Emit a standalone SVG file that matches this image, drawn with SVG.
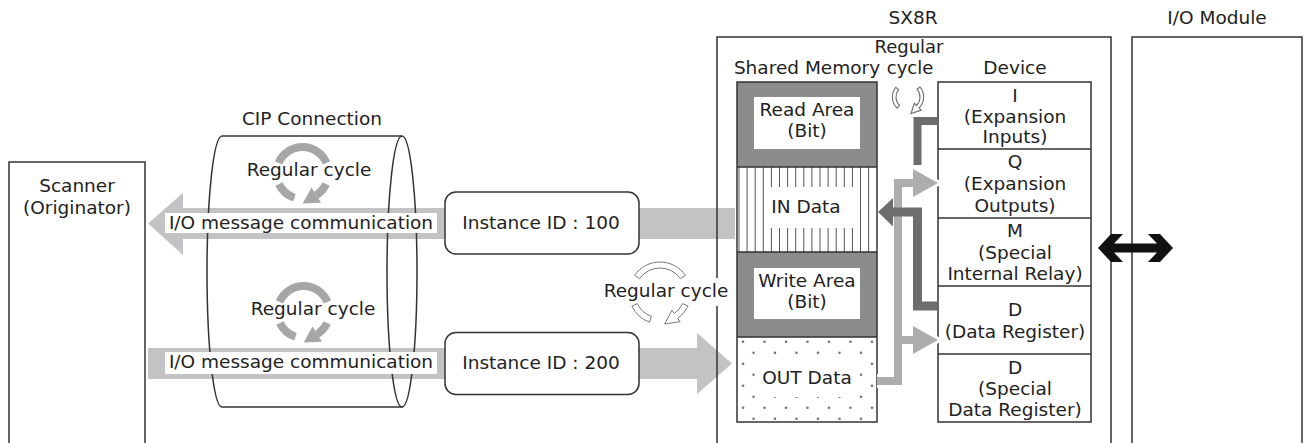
<svg xmlns="http://www.w3.org/2000/svg" width="1306" height="443" viewBox="0 0 1306 443">
<style>
.t{font-family:"DejaVu Sans","Liberation Sans",sans-serif;font-size:18.5px;fill:#222;text-anchor:middle}
.box{fill:none;stroke:#333;stroke-width:1.5}
.wbox{fill:#fff;stroke:#333;stroke-width:1.5}
.band{fill:#c3c3c5}
.thin{fill:#fff;stroke:#777;stroke-width:1}
</style>
<defs>
<g id="cycThick">
<g fill="none" stroke="#a6a6a6" stroke-width="8">
<path d="M-23.93,-10.16 A26,26 0 0 1 23.93,-10.16"/>
<path d="M-8.03,24.73 A26,26 0 0 1 -23.56,10.99"/>
<path d="M23.56,10.99 A26,26 0 0 1 13.78,22.05"/>
</g>
<polygon points="18.55,29.68 0.2,30.5 9.01,14.42" fill="#a6a6a6"/>
</g>
<pattern id="dots" patternUnits="userSpaceOnUse" x="737" y="337" width="21.5" height="22">
<circle cx="6" cy="4.7" r="1.2" fill="#666"/>
<circle cx="16.5" cy="15.7" r="1.2" fill="#666"/>
</pattern>
</defs>

<g id="scanner">
<rect class="box" x="9" y="162" width="136" height="300"/>
<text class="t" x="77" y="192">Scanner</text>
<text class="t" x="77" y="214">(Originator)</text>
</g>

<g id="connectors">
<polygon class="band" points="148,223.5 183,193 183,208 735,208 735,239 183,239 183,255"/>
<polygon class="band" points="148,348 697,348 697,333 732,363.5 697,394 697,379 148,379"/>
</g>

<g id="cip-connection">
<path class="box" d="M222,136 H402 M222,407 H402 M222,136 A15,135.5 0 0 0 222,407"/>
<ellipse class="box" cx="402" cy="271.5" rx="15" ry="135.5"/>
<text class="t" x="312" y="125">CIP Connection</text>
<use href="#cycThick" x="302.5" y="173"/>
<text class="t" x="309" y="176">Regular cycle</text>
<use href="#cycThick" x="303.5" y="312"/>
<text class="t" x="313" y="315">Regular cycle</text>
<rect x="165" y="213" width="272" height="20" fill="#fff"/>
<text class="t" x="301" y="229">I/O message communication</text>
<rect x="165" y="352" width="272" height="22" fill="#fff"/>
<text class="t" x="301" y="368">I/O message communication</text>
</g>

<g id="instance-100">
<rect class="wbox" x="445" y="192" width="194" height="62" rx="11"/>
<text class="t" x="541" y="229">Instance ID : 100</text>
</g>
<g id="instance-200">
<rect class="wbox" x="445" y="332.5" width="194" height="62" rx="11"/>
<text class="t" x="541" y="369">Instance ID : 200</text>
</g>

<g id="sx8r">
<rect class="box" x="717" y="37" width="394" height="420"/>
<text class="t" x="913" y="24">SX8R</text>
</g>

<g id="cycle-sync">
<rect x="601" y="278" width="130" height="28" fill="#fff"/>
<g transform="translate(660,293)">
<path class="thin" d="M-25.39,-17.78 A31,31 0 0 1 25.39,-17.78 L20.48,-14.34 A25,25 0 0 0 -20.48,-14.34 Z"/>
<path class="thin" d="M-10.60,29.13 A31,31 0 0 1 -28.10,13.10 L-22.66,10.57 A25,25 0 0 0 -8.55,23.49 Z"/>
<path class="thin" d="M28.10,13.10 A31,31 0 0 1 17.78,25.39 L20.08,28.67 L4.6,31 L12.05,17.20 L14.34,20.48 A25,25 0 0 0 22.66,10.57 Z"/>
</g>
<text class="t" x="666" y="297">Regular cycle</text>
</g>

<g id="shared-memory">
<text class="t" x="807" y="74">Shared Memory</text>
<rect x="737" y="82" width="140" height="85" fill="#8c8c8c"/>
<rect x="754" y="97" width="106" height="52" fill="#fff"/>
<text class="t" x="807" y="116">Read Area</text>
<text class="t" x="807" y="137">(Bit)</text>
<path d="M739,167V252 M747.1,167V252 M755.2,167V252 M763.3,167V252 M771.4,167V252 M779.5,167V252 M787.6,167V252 M795.7,167V252 M803.8,167V252 M811.9,167V252 M820,167V252 M828.1,167V252 M836.2,167V252 M844.3,167V252 M852.4,167V252 M860.5,167V252 M868.6,167V252" stroke="#555" stroke-width="1" fill="none"/>
<rect x="764.5" y="187" width="94" height="41" fill="#fff"/>
<text class="t" x="806" y="213">IN Data</text>
<rect x="737" y="252" width="140" height="85" fill="#8c8c8c"/>
<rect x="754" y="268" width="106" height="51" fill="#fff"/>
<text class="t" x="807" y="287">Write Area</text>
<text class="t" x="807" y="308">(Bit)</text>
<rect x="737" y="337" width="140" height="85" fill="url(#dots)"/>
<rect x="756" y="358" width="104" height="39" fill="#fff"/>
<text class="t" x="807" y="384">OUT Data</text>
<path class="box" d="M737,167H877 M737,252H877 M737,337H877"/>
<rect class="box" x="737" y="82" width="140" height="340"/>
</g>

<g id="device">
<text class="t" x="1015" y="74">Device</text>
<rect class="box" x="938" y="82" width="153" height="340"/>
<path class="box" d="M938,149H1091 M938,218H1091 M938,286H1091 M938,354H1091"/>
<text class="t" x="1015" y="102">I</text>
<text class="t" x="1015" y="123">(Expansion</text>
<text class="t" x="1015" y="143">Inputs)</text>
<text class="t" x="1015" y="168">Q</text>
<text class="t" x="1015" y="190">(Expansion</text>
<text class="t" x="1015" y="212">Outputs)</text>
<text class="t" x="1015" y="237">M</text>
<text class="t" x="1015" y="259">(Special</text>
<text class="t" x="1015" y="280">Internal Relay)</text>
<text class="t" x="1015" y="316">D</text>
<text class="t" x="1015" y="338">(Data Register)</text>
<text class="t" x="1015" y="374">D</text>
<text class="t" x="1015" y="395">(Special</text>
<text class="t" x="1015" y="416">Data Register)</text>
</g>

<g id="io-module">
<rect class="box" x="1132" y="37" width="170" height="420"/>
<text class="t" x="1217" y="24">I/O Module</text>
</g>

<g id="internal-connectors">
<path d="M938,121 H917.5 V165" fill="none" stroke="#6d6d6d" stroke-width="8"/>
<path d="M877,381 H898 V183 H914 M898,340 H914" fill="none" stroke="#fff" stroke-width="14"/>
<polygon points="913,169 938,183 913,197" fill="#adadad" stroke="#fff" stroke-width="6" stroke-linejoin="round"/>
<polygon points="913,326 938,340 913,354" fill="#adadad" stroke="#fff" stroke-width="6" stroke-linejoin="round"/>
<path d="M877,381 H898 V183 H914 M898,340 H914" fill="none" stroke="#adadad" stroke-width="8"/>
<polygon points="913,169 938,183 913,197" fill="#adadad"/>
<polygon points="913,326 938,340 913,354" fill="#adadad"/>
<path d="M938,306 H917.5 V212 H892" fill="none" stroke="#6d6d6d" stroke-width="9"/>
<polygon points="893,198 878,212 893,226.5" fill="#6d6d6d"/>
<polygon points="1098,248 1111,234 1123,234 1114,243.5 1157,243.5 1148,234 1160,234 1173,248 1160,262 1148,262 1157,252.5 1114,252.5 1123,262 1111,262" fill="#111"/>
<g transform="translate(908,97) scale(1.2)">
<path class="thin" d="M-9.19,9.19 A13,13 0 0 1 -10.24,-8.00 L-7.88,-6.16 A10,10 0 0 0 -7.07,7.07 Z" stroke-width="0.85"/>
<path class="thin" d="M9.96,-8.36 A13,13 0 0 1 9.19,9.19 L10.96,10.96 L2.5,13.8 L5.30,5.30 L7.07,7.07 A10,10 0 0 0 7.66,-6.43 Z" stroke-width="0.85"/>
</g>
<text class="t" x="909" y="53" style="font-size:18px">Regular</text>
<text class="t" x="910" y="74" style="font-size:18px">cycle</text>
</g>
</svg>
